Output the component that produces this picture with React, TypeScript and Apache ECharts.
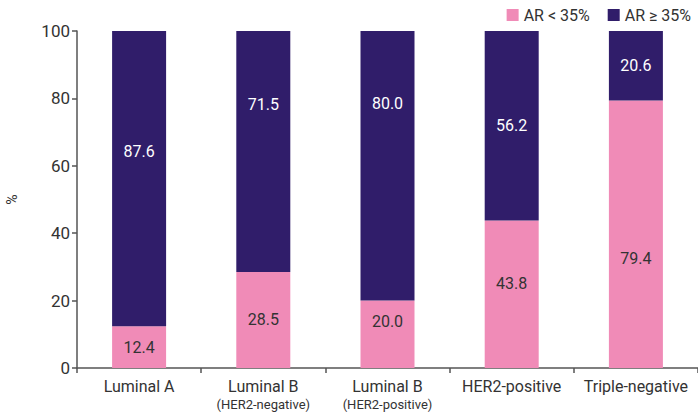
import React, { useEffect, useRef } from "react";
import * as echarts from "echarts";

const categories = ["Luminal A", "Luminal B\n(HER2-negative)", "Luminal B\n(HER2-positive)", "HER2-positive", "Triple-negative"];
const arLow = [12.4, 28.5, 20.0, 43.8, 79.4];
const arHigh = [87.6, 71.5, 80.0, 56.2, 20.6];
const yTicks = [0, 20, 40, 60, 80, 100];
const lowOffsets = [0, 0, -13, -11, 24];
const highOffsets = [-27, -47, -62, 0, 0];

const FONT = "Roboto";

export default function App() {
  const ref = useRef<HTMLDivElement>(null);
  useEffect(() => {
    const chart = echarts.init(ref.current!, undefined, { renderer: "svg" });
    chart.setOption({
      animation: false,
      textStyle: { fontFamily: FONT },
      legend: {
        right: 2,
        top: 2,
        itemWidth: 12,
        itemHeight: 12,
        itemGap: 18,
        icon: "rect",
        textStyle: { fontSize: 16, color: "#333", fontFamily: FONT },
        data: ["AR < 35%", "AR ≥ 35%"],
      },
      grid: { left: 77, right: 0, top: 31, bottom: 49, outerBoundsMode: "none", containLabel: false },
      xAxis: {
        type: "category",
        data: categories,
        axisLine: { lineStyle: { color: "#555", width: 1.5 } },
        axisTick: { show: true, length: 5, lineStyle: { color: "#555", width: 1.5 } },
        axisLabel: {
          interval: 0,
          margin: 8,
          color: "#333",
          fontSize: 16,
          fontFamily: FONT,
          formatter: (v: string) => {
            const parts = v.split("\n");
            return parts.length > 1 ? `{a|${parts[0]}}\n{b|${parts[1]}}` : `{a|${parts[0]}}`;
          },
          rich: {
            a: { fontSize: 16, color: "#333", fontFamily: FONT, lineHeight: 20 },
            b: { fontSize: 13, color: "#333", fontFamily: FONT, lineHeight: 17 },
          },
        },
      },
      yAxis: {
        type: "value",
        min: 0,
        max: 100,
        interval: 20,
        name: "%",
        nameLocation: "middle",
        nameGap: 58,
        nameRotate: 90,
        nameTextStyle: { fontSize: 14, color: "#333", fontFamily: FONT },
        axisLine: { show: true, lineStyle: { color: "#555", width: 1.5 } },
        axisTick: { show: true, length: 5, lineStyle: { color: "#555", width: 1.5 } },
        axisLabel: {
          color: "#333",
          fontSize: 17,
          margin: 7,
          fontFamily: FONT,
          formatter: (v: number) => (yTicks.includes(v) ? String(v) : ""),
        },
        splitLine: { show: false },
      },
      series: [
        {
          name: "AR < 35%",
          type: "bar",
          stack: "s",
          barWidth: 54,
          itemStyle: { color: "#F08BB7" },
          label: {
            show: true,
            position: "inside",
            color: "#333",
            fontSize: 16,
            fontFamily: FONT,
            formatter: (p: any) => Number(p.value).toFixed(1),
          },
          data: arLow.map((v, i) => ({ value: v, label: { offset: [0, lowOffsets[i]] } })),
        },
        {
          name: "AR ≥ 35%",
          type: "bar",
          stack: "s",
          barWidth: 54,
          itemStyle: { color: "#301D6A" },
          label: {
            show: true,
            position: "inside",
            color: "#fff",
            fontSize: 16,
            fontFamily: FONT,
            formatter: (p: any) => Number(p.value).toFixed(1),
          },
          data: arHigh.map((v, i) => ({ value: v, label: { offset: [0, highOffsets[i]] } })),
        },
      ],
    });
    return () => chart.dispose();
  }, []);
  return <div ref={ref} style={{ width: 698, height: 417, position: "absolute", left: 0, top: 0 }} />;
}
